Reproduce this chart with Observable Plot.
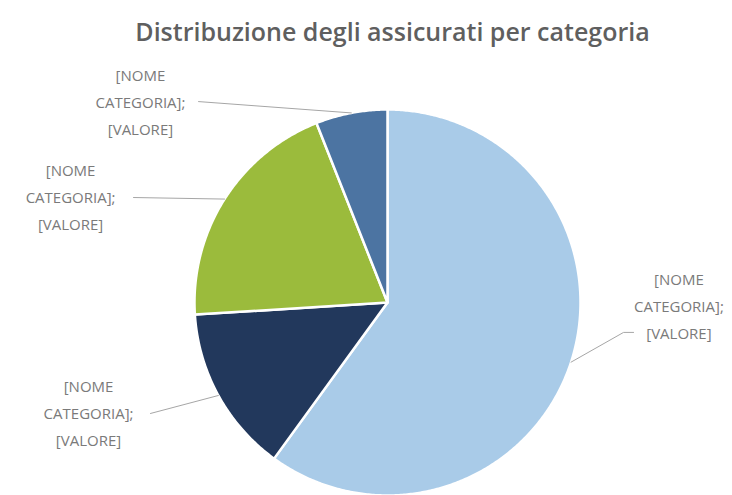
<!DOCTYPE html>
<html>
<head>
<meta charset="utf-8">
<script src="https://cdn.jsdelivr.net/npm/d3@7"></script>
<script src="https://cdn.jsdelivr.net/npm/@observablehq/plot@0.6"></script>
<style>
  html, body { margin: 0; padding: 0; background: #ffffff; }
  #chart svg { display: block; }
</style>
</head>
<body>
<div id="chart"></div>
<script>
// ---- data ----
const title = "Distribuzione degli assicurati per categoria";
const categories = ["Categoria 1", "Categoria 2", "Categoria 3", "Categoria 4"];
const values = [60, 14, 20, 6];
const labelTexts = [
  "[NOME\nCATEGORIA];\n[VALORE]",
  "[NOME\nCATEGORIA];\n[VALORE]",
  "[NOME\nCATEGORIA];\n[VALORE]",
  "[NOME\nCATEGORIA];\n[VALORE]"
];

// ---- styles / layout (not data) ----
const colors = ["#a9cbe8", "#22385c", "#9bbb3c", "#4c74a2"];
const W = 732, H = 495;
const cx = 387, cy = 302, r = 193; // pie centre and radius in pixels
// label block centres and leader-line end points, in radius units
const labelPos = [
  {x: 1.51, y: -0.005, leader: [[1.223, -0.155], [1.275, -0.155]]},
  {x: -1.549, y: -0.560, leader: [[-1.228, -0.575]]},
  {x: -1.642, y: 0.560, leader: [[-1.316, 0.544]]},
  {x: -1.28, y: 1.052, leader: [[-0.979, 1.041]]}
];
const titlePos = {x: 0.026, y: 1.394};

// ---- geometry from data ----
const arcs = d3.pie().sort(null).startAngle(0).endAngle(2 * Math.PI)(values);
const slicePts = arcs.map((a, i) => {
  const pts = [{x: 0, y: 0}];
  const n = Math.max(2, Math.ceil((a.endAngle - a.startAngle) / (Math.PI / 360)));
  for (let k = 0; k <= n; k++) {
    const t = a.startAngle + (a.endAngle - a.startAngle) * k / n;
    pts.push({x: Math.sin(t), y: Math.cos(t)});
  }
  return pts;
});
const leaders = arcs.map((a, i) => {
  const m = (a.startAngle + a.endAngle) / 2;
  return [{x: Math.sin(m), y: Math.cos(m)}, ...labelPos[i].leader.map(([x, y]) => ({x, y}))];
});
const labelData = labelTexts.map((t, i) => ({text: t, x: labelPos[i].x, y: labelPos[i].y}));

const plot = Plot.plot({
  width: W,
  height: H,
  margin: 0,
  style: {background: "#ffffff", overflow: "visible"},
  x: {domain: [(0 - cx) / r, (W - cx) / r], range: [0, W], axis: null},
  y: {domain: [(cy - H) / r, cy / r], range: [H, 0], axis: null},
  marks: [
    ...slicePts.map((pts, i) => Plot.line(pts, {
      x: "x", y: "y", curve: "linear-closed",
      fill: colors[i], stroke: "#ffffff", strokeWidth: 2.5, strokeLinejoin: "round"
    })),
    ...leaders.map(pts => Plot.line(pts, {
      x: "x", y: "y", stroke: "#a6a6a6", strokeWidth: 1
    })),
    Plot.text(labelData, {
      x: "x", y: "y", text: "text",
      fontFamily: "Open Sans", fontSize: 15, fill: "#7a7a7a",
      lineHeight: 1.8, textAnchor: "middle", lineAnchor: "middle"
    }),
    Plot.text([title], {
      x: () => titlePos.x, y: () => titlePos.y, text: d => d,
      fontFamily: "Open Sans", fontSize: 25, fontWeight: 600, fill: "#5f5f5f",
      textAnchor: "middle", lineAnchor: "middle"
    })
  ]
});
document.getElementById("chart").appendChild(plot);
</script>
</body>
</html>
